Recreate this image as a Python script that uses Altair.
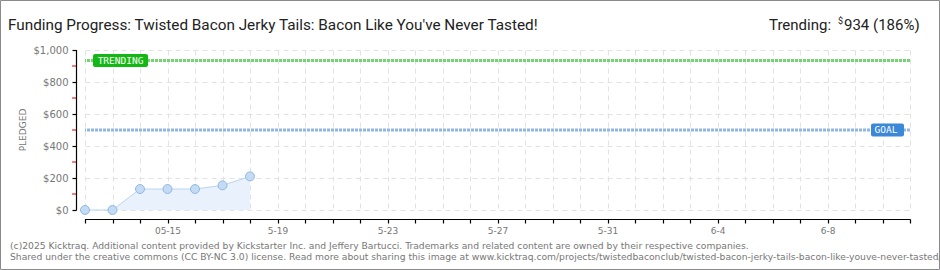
import altair as alt
import pandas as pd

# ---- chart content ----
title_text = "Funding Progress: Twisted Bacon Jerky Tails: Bacon Like You've Never Tasted!"
trend_prefix = "Trending:"
trending = 934
trending_pct = 186
goal = 500

dates = ["2025-05-12", "2025-05-13", "2025-05-14", "2025-05-15",
         "2025-05-16", "2025-05-17", "2025-05-18"]
pledged = [0, 0, 131, 131, 131, 154, 210]

axis_start = "2025-05-12"
axis_end = "2025-06-11"
label_dates = ["2025-05-15", "2025-05-19", "2025-05-23", "2025-05-27",
               "2025-05-31", "2025-06-04", "2025-06-08"]
label_texts = ["05-15", "5-19", "5-23", "5-27", "5-31", "6-4", "6-8"]

y_major = [0, 200, 400, 600, 800, 1000]
y_minor = [100, 300, 500, 700, 900]

footer_lines = [
    "(c)2025 Kicktraq. Additional content provided by Kickstarter Inc. and Jeffery Bartucci. "
    "Trademarks and related content are owned by their respective companies.",
    "Shared under the creative commons (CC BY-NC 3.0) license. Read more about sharing this image at "
    "www.kicktraq.com/projects/twistedbaconclub/twisted-bacon-jerky-tails-bacon-like-youve-never-tasted/",
]

W, H = 825, 160          # plot area
PAD_L, PAD_T = 85, 50
AXIS_GAP = 9             # axes sit a little away from the plot area


def ms(d):
    return int(pd.Timestamp(d, tz="UTC").timestamp() * 1000)


day_ticks = [ms(d) for d in pd.date_range(axis_start, axis_end, freq="D").strftime("%Y-%m-%d")]
x_domain = [ms(axis_start), ms(axis_end)]

label_expr = "''"
for d, t in reversed(list(zip(label_dates, label_texts))):
    label_expr = f"toNumber(datum.value) == {ms(d)} ? '{t}' : ({label_expr})"

series = pd.DataFrame({"t": [ms(d) for d in dates], "v": pledged})

x_scale = alt.Scale(type="utc", domain=x_domain)
y_scale = alt.Scale(domain=[0, 1000], nice=False)

x_axis = alt.Axis(values=day_ticks, labelExpr=label_expr, grid=True,
                  gridColor="#e2e2e2", gridDash=[5, 4], domainColor="#000",
                  tickColor="#000", tickWidth=1.2, tickSize=4, offset=AXIS_GAP, labelPadding=3,
                  labelFont="DejaVu Sans", labelFontSize=9, labelColor="#777",
                  labelOverlap=False, labelFlush=False, title=None)
y_axis = alt.Axis(values=y_major, labelExpr="'$' + format(datum.value, ',')",
                  grid=True, gridColor="#e2e2e2", gridDash=[5, 4],
                  domainColor="#000", tickColor="#000", tickWidth=1.2,
                  tickSize=4, offset=AXIS_GAP, labelPadding=4, labelFont="DejaVu Sans",
                  labelFontSize=10, labelColor="#777", labelOverlap=False, title=None)

# shared position encodings, so every layer carries the same axes
X = alt.X("t:T", scale=x_scale, axis=x_axis)
Y = alt.Y("v:Q", scale=y_scale, axis=y_axis)

base = alt.Chart(series)
area = base.mark_area(color="#e9f2fc").encode(x=X, y=Y)
line = base.mark_line(color="#b9d4f1", strokeWidth=1).encode(x=X, y=Y)
points = base.mark_point(filled=True, size=80, fill="#c4dbf5", stroke="#92b7e1",
                         strokeWidth=1, opacity=1).encode(x=X, y=Y)

# solid axis lines, drawn over the axis domains
one = pd.DataFrame({"s": [0]})
y_line = alt.Chart(one).mark_rule(color="#000", strokeWidth=1.2).encode(
    x=alt.value(-AXIS_GAP + 0.5), y=alt.value(0), y2=alt.value(H))
x_line = alt.Chart(one).mark_rule(color="#000", strokeWidth=1.2).encode(
    y=alt.value(H + AXIS_GAP + 0.5), x=alt.value(0), x2=alt.value(W))

# red minor ticks beside the y axis
minor = alt.Chart(pd.DataFrame({"v": y_minor})).mark_rule(
    color="#e00000", strokeWidth=1).encode(y=Y, x=alt.value(-AXIS_GAP - 4), x2=alt.value(-AXIS_GAP))

# trending and goal reference lines with their tags
trend_df = pd.DataFrame({"v": [trending], "s": ["TRENDING"]})
goal_df = pd.DataFrame({"v": [goal], "s": ["GOAL"]})

trend_rule = alt.Chart(trend_df).mark_rule(
    color="#74d474", strokeWidth=3, strokeDash=[3, 1]).encode(y=Y)
goal_rule = alt.Chart(goal_df).mark_rule(
    color="#90b6e2", strokeWidth=3, strokeDash=[3, 1]).encode(y=Y)

trend_box = alt.Chart(trend_df).mark_rect(
    color="#14b814", height=13, cornerRadius=2).encode(
    y=Y, x=alt.value(8), x2=alt.value(63))
trend_txt = alt.Chart(trend_df).mark_text(
    color="white", font="DejaVu Sans Mono", fontSize=9.5,
    align="center", baseline="middle").encode(y=Y, x=alt.value(35.5), text="s:N")

goal_box = alt.Chart(goal_df).mark_rect(
    color="#3c88d8", height=13, cornerRadius=2).encode(
    y=Y, x=alt.value(786), x2=alt.value(819))
goal_txt = alt.Chart(goal_df).mark_text(
    color="white", font="DejaVu Sans Mono", fontSize=9.5,
    align="center", baseline="middle").encode(y=Y, x=alt.value(801), text="s:N")


def label(text, x, y, **kw):
    return alt.Chart(pd.DataFrame({"s": [text]})).mark_text(**kw).encode(
        x=alt.value(x), y=alt.value(y), text="s:N")


title = label(title_text, 8 - PAD_L, 30 - PAD_T, font="Roboto", fontSize=15.3,
              color="#222", align="left", baseline="alphabetic")
trend_a = label(trend_prefix, 769 - PAD_L, 30 - PAD_T, font="Roboto", fontSize=15,
                color="#222", align="left", baseline="alphabetic")
trend_b = label("$", 838 - PAD_L, 24 - PAD_T, font="Roboto", fontSize=9,
                color="#222", align="left", baseline="alphabetic")
trend_c = label(f"{trending} ({trending_pct}%)", 844 - PAD_L, 30 - PAD_T, font="Roboto",
                fontSize=15, color="#222", align="left", baseline="alphabetic")
ytitle = label("PLEDGED", 26 - PAD_L, 130 - PAD_T, font="DejaVu Sans", fontSize=9,
               color="#777", angle=270, align="center", baseline="alphabetic")
foot1 = label(footer_lines[0], 10 - PAD_L, 249 - PAD_T, font="DejaVu Sans", fontSize=9.2,
              color="#777", align="left", baseline="alphabetic")
foot2 = label(footer_lines[1], 10 - PAD_L, 260 - PAD_T, font="DejaVu Sans", fontSize=9.2,
              color="#777", align="left", baseline="alphabetic")

# thin grey border round the whole picture
frame = alt.Chart(one).mark_rect(
    fillOpacity=0, stroke="#8a8a8a", strokeWidth=1).encode(
    x=alt.value(-PAD_L + 0.5), x2=alt.value(940 - PAD_L - 0.5),
    y=alt.value(-PAD_T + 0.5), y2=alt.value(270 - PAD_T - 0.5))

chart = alt.layer(
    frame, area, trend_rule, goal_rule, line, points, y_line, x_line, minor,
    trend_box, trend_txt, goal_box, goal_txt,
    title, trend_a, trend_b, trend_c, ytitle, foot1, foot2,
).properties(
    width=W, height=H,
    autosize=alt.AutoSizeParams(type="none"),
    padding={"left": PAD_L, "top": PAD_T, "right": 940 - PAD_L - W, "bottom": 270 - PAD_T - H},
    background="white",
).configure_view(stroke=None)

chart.save("out.html", embed_options={"renderer": "svg", "actions": False})
